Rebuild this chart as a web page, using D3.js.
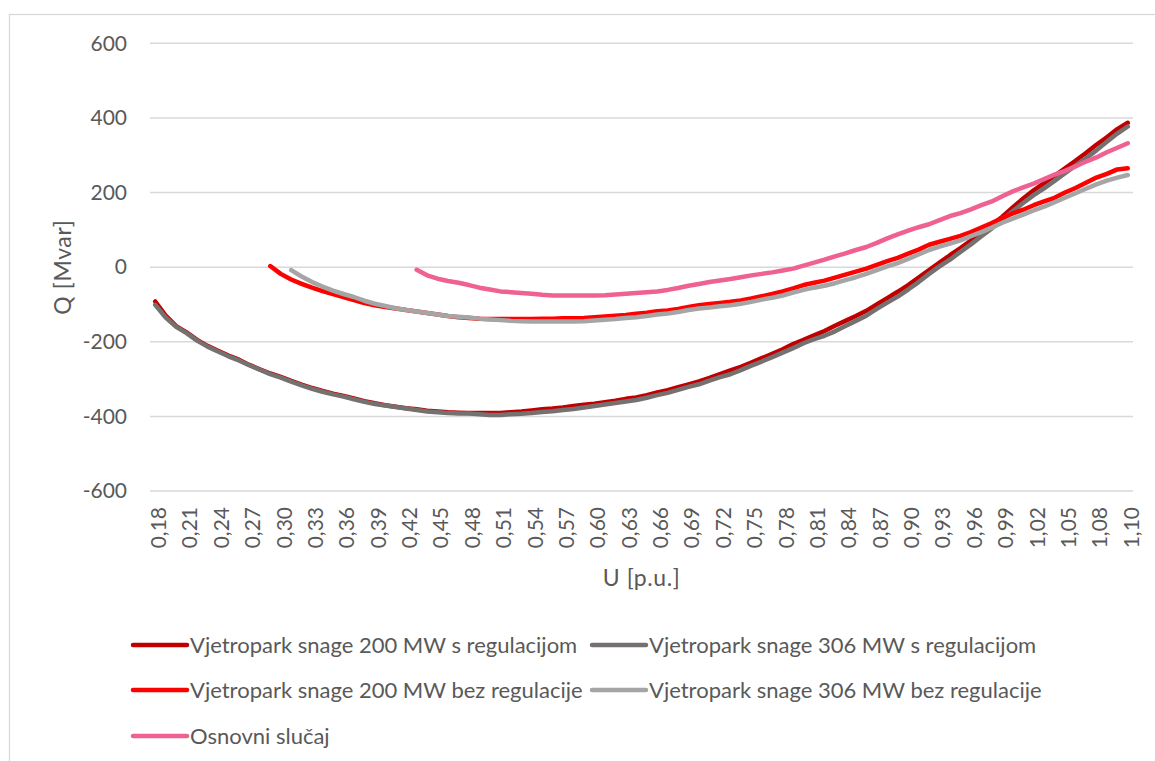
<!DOCTYPE html>
<html>
<head>
<meta charset="utf-8">
<script src="https://cdn.jsdelivr.net/npm/d3@7/dist/d3.min.js"></script>
<style>
  html, body { margin: 0; padding: 0; background: #fff; }
  svg { display: block; font-family: Lato, "Open Sans", sans-serif; }
</style>
</head>
<body>
<svg id="chart" width="1155" height="761"></svg>
<script>
// ---- Data ----
const categories = [
  "0,18","0,19","0,20","0,21","0,22","0,23","0,24","0,25","0,26","0,27",
  "0,28","0,29","0,30","0,31","0,32","0,33","0,34","0,35","0,36","0,37",
  "0,38","0,39","0,40","0,41","0,42","0,43","0,44","0,45","0,46","0,47",
  "0,48","0,49","0,50","0,51","0,52","0,53","0,54","0,55","0,56","0,57",
  "0,58","0,59","0,60","0,61","0,62","0,63","0,64","0,65","0,66","0,67",
  "0,68","0,69","0,70","0,71","0,72","0,73","0,74","0,75","0,76","0,77",
  "0,78","0,79","0,80","0,81","0,82","0,83","0,84","0,85","0,86","0,87",
  "0,88","0,89","0,90","0,91","0,92","0,93","0,94","0,95","0,96","0,97",
  "0,98","0,99","1,00","1,01","1,02","1,03","1,04","1,05","1,06","1,07",
  "1,08","1,09","1,09","1,10"
];
const yTicks = [-600, -400, -200, 0, 200, 400, 600];
const labelEvery = 3;

// Vjetropark snage 200 MW s regulacijom (starts at 0,18)
const vp200s = [
  -92,-130,-158,-175,-195,-211,-224,-237,-248,-262,
  -274,-285,-294,-305,-315,-324,-332,-339,-345,-352,
  -359,-365,-370,-374,-378,-381,-385,-387,-389,-390,
  -391,-391,-391,-391,-389,-387,-384,-381,-379,-376,
  -372,-369,-366,-362,-358,-353,-349,-343,-336,-330,
  -322,-314,-306,-297,-287,-277,-267,-256,-244,-232,
  -220,-206,-195,-183,-171,-157,-144,-131,-117,-100,
  -83,-66,-48,-28,-8,12,32,51,71,92,
  113,135,160,184,206,225,245,265,285,306,
  328,348,370,387
];
// Vjetropark snage 306 MW s regulacijom (starts at 0,18)
const vp306s = [
  -101,-135,-160,-177,-197,-213,-226,-239,-250,-263,
  -275,-287,-296,-307,-317,-326,-334,-341,-347,-354,
  -361,-367,-371,-375,-379,-383,-387,-389,-391,-392,
  -392,-394,-396,-396,-394,-393,-391,-388,-386,-383,
  -380,-376,-372,-368,-364,-360,-356,-350,-343,-337,
  -329,-321,-314,-304,-295,-287,-276,-264,-253,-241,
  -229,-217,-204,-193,-184,-172,-158,-144,-130,-112,
  -95,-79,-60,-40,-18,2,20,41,61,83,
  104,127,150,172,193,211,231,252,272,292,
  313,336,358,377
];
// Vjetropark snage 200 MW bez regulacije (starts at 0,29)
const vp200b = [
  3,-18,-33,-45,-55,-64,-72,-80,-88,
  -96,-102,-107,-111,-115,-119,-123,-127,-131,-134,
  -136,-138,-139,-139,-139,-139,-139,-138,-138,-137,
  -137,-136,-134,-132,-130,-128,-125,-122,-118,-116,
  -112,-107,-102,-99,-96,-93,-89,-84,-78,-72,
  -65,-57,-48,-42,-36,-28,-20,-12,-4,6,
  16,25,36,47,60,68,76,84,94,106,
  118,132,144,154,166,176,186,200,212,226,
  240,250,262,265
];
// Vjetropark snage 306 MW bez regulacije (starts at 0,31)
const vp306b = [
  -8,-25,-40,-52,-63,-72,-80,
  -90,-98,-104,-110,-115,-119,-123,-127,-131,-133,
  -135,-138,-140,-142,-144,-145,-146,-146,-146,-146,
  -146,-145,-143,-141,-139,-136,-134,-131,-127,-124,
  -120,-115,-111,-108,-105,-102,-98,-93,-87,-82,
  -76,-68,-61,-55,-50,-43,-35,-27,-18,-8,
  2,11,22,34,46,55,63,72,83,94,
  106,119,130,141,152,162,174,186,198,210,
  222,232,240,247
];
// Osnovni slučaj (starts at 0,43)
const osnovni = [
  -7,-22,-31,-37,-42,
  -48,-55,-60,-65,-67,-69,-71,-74,-76,-76,
  -76,-76,-76,-75,-73,-71,-69,-67,-65,-61,
  -56,-50,-45,-40,-36,-32,-27,-22,-18,-14,
  -9,-4,4,12,20,29,37,46,54,65,
  77,88,98,107,115,126,137,145,155,166,
  176,190,203,214,224,236,248,258,270,283,
  294,308,320,332
];

const series = [
  { name: "Vjetropark snage 200 MW s regulacijom", start: "0,18", values: vp200s, color: "#C00000" },
  { name: "Vjetropark snage 306 MW s regulacijom", start: "0,18", values: vp306s, color: "#767171" },
  { name: "Vjetropark snage 200 MW bez regulacije", start: "0,29", values: vp200b, color: "#FF0000" },
  { name: "Vjetropark snage 306 MW bez regulacije", start: "0,31", values: vp306b, color: "#A5A5A5" },
  { name: "Osnovni slučaj", start: "0,43", values: osnovni, color: "#EF6190" }
];

// ---- Layout ----
const svg = d3.select("#chart");
const plot = { left: 150, right: 1133, top: 43.3, bottom: 491 };
const textColor = "#595959";
const gridColor = "#D9D9D9";
const tickFont = 21;
const legendFont = 22;
const titleFont = 23;

svg.append("rect")
  .attr("x", 9.5).attr("y", 14.5)
  .attr("width", 1170).attr("height", 770)
  .attr("fill", "#fff").attr("stroke", gridColor).attr("stroke-width", 1.3);

const x = d3.scalePoint()
  .domain(d3.range(categories.length))
  .range([plot.left, plot.right])
  .padding(0.5);

const y = d3.scaleLinear()
  .domain([-600, 600])
  .range([plot.bottom, plot.top]);

// gridlines
svg.append("g")
  .selectAll("line")
  .data(yTicks)
  .join("line")
  .attr("x1", plot.left).attr("x2", plot.right)
  .attr("y1", d => y(d)).attr("y2", d => y(d))
  .attr("stroke", gridColor).attr("stroke-width", 1.5);

// y axis
const yAxis = svg.append("g")
  .attr("transform", `translate(${plot.left},0)`)
  .call(d3.axisLeft(y).tickValues(yTicks).tickSize(0).tickPadding(23).tickFormat(d => d3.format("d")(d).replace("−", "-")));
yAxis.select(".domain").remove();
yAxis.selectAll("text")
  .attr("fill", textColor)
  .attr("font-family", "Lato, sans-serif")
  .attr("font-size", tickFont);

// x axis
const xAxis = svg.append("g")
  .attr("transform", `translate(0,${plot.bottom})`)
  .call(d3.axisBottom(x)
    .tickValues(d3.range(0, categories.length, labelEvery))
    .tickSize(0)
    .tickFormat(i => categories[i]));
xAxis.select(".domain").remove();
xAxis.selectAll("text")
  .attr("fill", textColor)
  .attr("font-family", "Lato, sans-serif")
  .attr("font-size", tickFont)
  .attr("text-anchor", "end")
  .attr("dy", "0.35em")
  .attr("transform", "translate(0,16) rotate(-90)");

// axis titles
svg.append("text")
  .attr("x", (plot.left + plot.right) / 2)
  .attr("y", 586)
  .attr("text-anchor", "middle")
  .attr("fill", textColor)
  .attr("font-size", titleFont)
  .attr("letter-spacing", 0.6)
  .text("U [p.u.]");

svg.append("text")
  .attr("transform", `translate(71,${(plot.top + plot.bottom) / 2}) rotate(-90)`)
  .attr("text-anchor", "middle")
  .attr("fill", textColor)
  .attr("font-size", titleFont)
  .attr("letter-spacing", 0.6)
  .text("Q [Mvar]");

// lines
const line = d3.line()
  .x(d => x(d.i))
  .y(d => y(d.v))
  .curve(d3.curveLinear);

series.forEach(s => {
  const offset = categories.indexOf(s.start);
  const pts = s.values.map((v, k) => ({ i: offset + k, v }));
  svg.append("path")
    .datum(pts)
    .attr("d", line)
    .attr("fill", "none")
    .attr("stroke", s.color)
    .attr("stroke-width", 4.5)
    .attr("stroke-linejoin", "round")
    .attr("stroke-linecap", "round");
});

// legend
const legendPos = [
  { x: 133, y: 645 }, { x: 592, y: 645 },
  { x: 133, y: 690 }, { x: 592, y: 690 },
  { x: 133, y: 736 }
];
const lg = svg.append("g");
series.forEach((s, k) => {
  const p = legendPos[k];
  const g = lg.append("g").attr("transform", `translate(${p.x},${p.y})`);
  g.append("line")
    .attr("x1", 0).attr("x2", 54)
    .attr("stroke", s.color).attr("stroke-width", 4.5)
    .attr("stroke-linecap", "round");
  g.append("text")
    .attr("x", 57).attr("dy", "0.35em")
    .attr("fill", textColor)
    .attr("font-size", legendFont)
    .text(s.name);
});
</script>
</body>
</html>
